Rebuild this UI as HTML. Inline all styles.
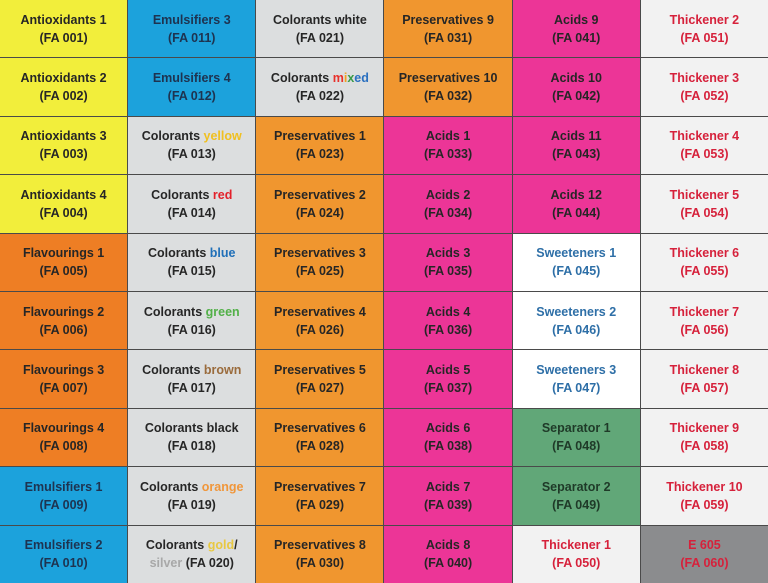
<!DOCTYPE html>
<html><head><meta charset="utf-8">
<style>
html,body{margin:0;padding:0;width:768px;height:583px;overflow:hidden;background:#fff}
#grid{display:grid;grid-template-columns:repeat(6,1fr);grid-template-rows:repeat(10,1fr);grid-auto-flow:column;gap:1px;background:#4a4a4a;width:768px;height:583px}
.c{display:flex;align-items:center;justify-content:center;text-align:center;font-family:"Liberation Sans",sans-serif;font-weight:bold;font-size:12.5px;line-height:18px;color:#262626}
.y{background:#f2ee3b}.b{background:#1ca2dc;color:#1e3350}.g{background:#dcdedf}.o{background:#f0962f}.fo{background:#ee7e24}
.p{background:#ec3597}.w{background:#fff;color:#2e6fa7}.gr{background:#61a778;color:#1f3a28}.t{background:#f2f2f2;color:#d6213b}.e{background:#8b8c8e;color:#d6213b}
</style></head><body>
<div id="grid">
<div class="c y">Antioxidants 1<br>(FA 001)</div>
<div class="c y">Antioxidants 2<br>(FA 002)</div>
<div class="c y">Antioxidants 3<br>(FA 003)</div>
<div class="c y">Antioxidants 4<br>(FA 004)</div>
<div class="c fo">Flavourings 1<br>(FA 005)</div>
<div class="c fo">Flavourings 2<br>(FA 006)</div>
<div class="c fo">Flavourings 3<br>(FA 007)</div>
<div class="c fo">Flavourings 4<br>(FA 008)</div>
<div class="c b">Emulsifiers 1<br>(FA 009)</div>
<div class="c b">Emulsifiers 2<br>(FA 010)</div>

<div class="c b">Emulsifiers 3<br>(FA 011)</div>
<div class="c b">Emulsifiers 4<br>(FA 012)</div>
<div class="c g"><span>Colorants <span style="color:#f0c020">yellow</span><br>(FA 013)</span></div>
<div class="c g"><span>Colorants <span style="color:#e3202a">red</span><br>(FA 014)</span></div>
<div class="c g"><span>Colorants <span style="color:#1f6fb8">blue</span><br>(FA 015)</span></div>
<div class="c g"><span>Colorants <span style="color:#52b048">green</span><br>(FA 016)</span></div>
<div class="c g"><span>Colorants <span style="color:#9a6b3c">brown</span><br>(FA 017)</span></div>
<div class="c g">Colorants black<br>(FA 018)</div>
<div class="c g"><span>Colorants <span style="color:#f0963a">orange</span><br>(FA 019)</span></div>
<div class="c g"><span>Colorants <span style="color:#e8c840">gold</span>/<br><span style="color:#a8a8a8">silver</span> (FA 020)</span></div>

<div class="c g">Colorants white<br>(FA 021)</div>
<div class="c g"><span>Colorants <span style="color:#e8302a">m</span><span style="color:#f0a020">i</span><span style="color:#3a9a48">x</span><span style="color:#2a70c0">ed</span><br>(FA 022)</span></div>
<div class="c o">Preservatives 1<br>(FA 023)</div>
<div class="c o">Preservatives 2<br>(FA 024)</div>
<div class="c o">Preservatives 3<br>(FA 025)</div>
<div class="c o">Preservatives 4<br>(FA 026)</div>
<div class="c o">Preservatives 5<br>(FA 027)</div>
<div class="c o">Preservatives 6<br>(FA 028)</div>
<div class="c o">Preservatives 7<br>(FA 029)</div>
<div class="c o">Preservatives 8<br>(FA 030)</div>

<div class="c o">Preservatives 9<br>(FA 031)</div>
<div class="c o">Preservatives 10<br>(FA 032)</div>
<div class="c p">Acids 1<br>(FA 033)</div>
<div class="c p">Acids 2<br>(FA 034)</div>
<div class="c p">Acids 3<br>(FA 035)</div>
<div class="c p">Acids 4<br>(FA 036)</div>
<div class="c p">Acids 5<br>(FA 037)</div>
<div class="c p">Acids 6<br>(FA 038)</div>
<div class="c p">Acids 7<br>(FA 039)</div>
<div class="c p">Acids 8<br>(FA 040)</div>

<div class="c p">Acids 9<br>(FA 041)</div>
<div class="c p">Acids 10<br>(FA 042)</div>
<div class="c p">Acids 11<br>(FA 043)</div>
<div class="c p">Acids 12<br>(FA 044)</div>
<div class="c w">Sweeteners 1<br>(FA 045)</div>
<div class="c w">Sweeteners 2<br>(FA 046)</div>
<div class="c w">Sweeteners 3<br>(FA 047)</div>
<div class="c gr">Separator 1<br>(FA 048)</div>
<div class="c gr">Separator 2<br>(FA 049)</div>
<div class="c t">Thickener 1<br>(FA 050)</div>

<div class="c t">Thickener 2<br>(FA 051)</div>
<div class="c t">Thickener 3<br>(FA 052)</div>
<div class="c t">Thickener 4<br>(FA 053)</div>
<div class="c t">Thickener 5<br>(FA 054)</div>
<div class="c t">Thickener 6<br>(FA 055)</div>
<div class="c t">Thickener 7<br>(FA 056)</div>
<div class="c t">Thickener 8<br>(FA 057)</div>
<div class="c t">Thickener 9<br>(FA 058)</div>
<div class="c t">Thickener 10<br>(FA 059)</div>
<div class="c e">E 605<br>(FA 060)</div>
</div>
</body></html>
